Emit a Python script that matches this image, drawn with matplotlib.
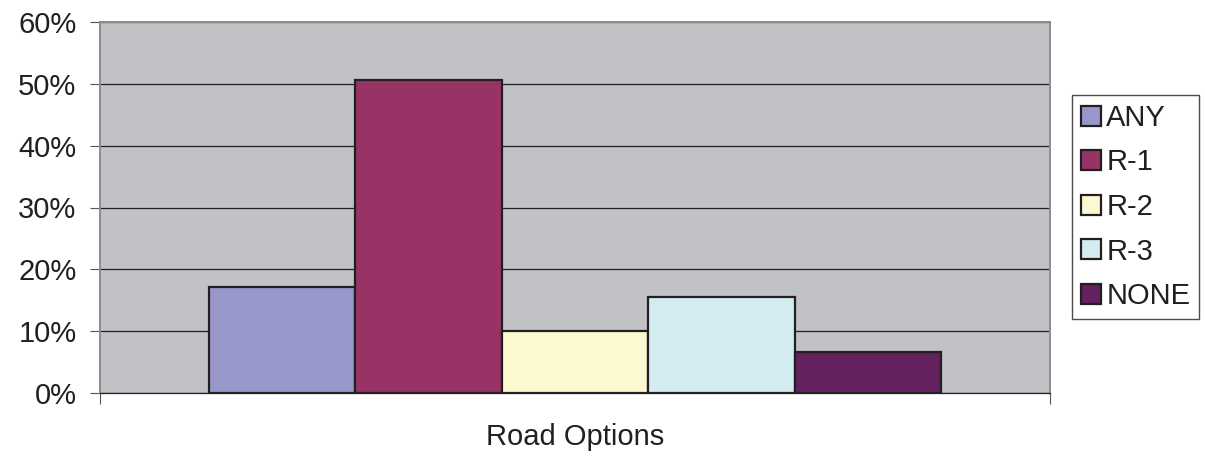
import matplotlib
matplotlib.use("Agg")
import matplotlib.pyplot as plt
from matplotlib.ticker import PercentFormatter

# data
series = ["ANY", "R-1", "R-2", "R-3", "NONE"]
values = [17.1, 50.7, 10.1, 15.5, 6.6]
colors = ["#9797CA", "#993366", "#FCF8CF", "#D3ECF2", "#632160"]
yticks = [0, 10, 20, 30, 40, 50, 60]

plt.rcParams['font.family'] = ['Liberation Sans', 'DejaVu Sans']

fig = plt.figure(figsize=(12.05, 4.57), dpi=100)
ax = fig.add_axes([100 / 1205, 1 - 393 / 457, 950 / 1205, 371 / 457])
ax.set_facecolor("#C1C2C6")

width = 0.1542
for i, (name, val, col) in enumerate(zip(series, values, colors)):
    ax.bar((i - 2) * width, val, width, color=col, edgecolor="#231F20",
           linewidth=1.6, label=name, zorder=3)

ax.set_xlim(-0.5, 0.5)
ax.set_ylim(0, 60)
ax.set_yticks(yticks)
ax.yaxis.set_major_formatter(PercentFormatter(decimals=0))
ax.set_xticks([-0.5, 0.5])
ax.set_xticklabels(["", ""])
ax.tick_params(axis="y", length=7, width=0.8, color="#555555", labelsize=21,
               labelcolor="#231F20", pad=10)
ax.tick_params(axis="x", length=8, width=0.8, color="#555555")
ax.grid(axis="y", color="#231F20", linewidth=0.9, zorder=1)

for side in ["left", "right", "top"]:
    ax.spines[side].set_color("#8C8C8C")
    ax.spines[side].set_linewidth(1.4)
ax.spines["bottom"].set_color("#231F20")
ax.spines["bottom"].set_linewidth(0.9)

ax.set_xlabel("Road Options", fontsize=21, color="#231F20", labelpad=10)

leg = ax.legend(loc="center left", bbox_to_anchor=(1072 / 1205, 1 - 207 / 457),
                bbox_transform=fig.transFigure, fontsize=21, frameon=True,
                fancybox=False, handlelength=0.68, handleheight=0.68,
                handletextpad=0.2, labelspacing=0.57, borderpad=0.3,
                borderaxespad=0)
leg.get_frame().set_edgecolor("#231F20")
leg.get_frame().set_linewidth(1.0)
for t in leg.get_texts():
    t.set_color("#231F20")

fig.savefig("out.png", dpi=100)
